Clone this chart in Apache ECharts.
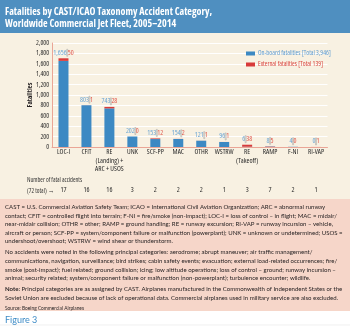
<!DOCTYPE html>
<html><head><meta charset="utf-8">
<script src="https://cdn.jsdelivr.net/npm/echarts@6/dist/echarts.min.js"></script>
<style>html,body{margin:0;padding:0;background:#fff}#c{width:350px;height:328px}</style>
</head><body><div id="c"></div>
<script>
const categories = ['LOC-I','CFIT','RE\n(Landing) +\nARC + USOS','UNK','SCF-PP','MAC','OTHR','WSTRW','RE\n(Takeoff)','RAMP','F-NI','RI-VAP'];
const onboard = [1656,803,743,202,153,154,121,96,6,8,4,0];
const external = [50,1,28,0,12,2,1,1,38,5,0,1];
const accidents = [17,16,16,3,2,2,2,1,3,7,2,1];
const seriesNames = ['On-board fatalities [Total 3,946]','External fatalities [Total 139]'];
const titleLines = ['Fatalities by CAST/ICAO Taxonomy Accident Category,','Worldwide Commercial Jet Fleet, 2005–2014'];
const notes1 = [
 'CAST = U.S. Commercial Aviation Safety Team; ICAO = International Civil Aviation Organization; ARC = abnormal runway',
 'contact; CFIT = controlled flight into terrain; F-NI = fire/smoke (non-impact); LOC-I = loss of control – in flight; MAC = midair/',
 'near-midair collision; OTHR = other; RAMP = ground handling; RE = runway excursion; RI-VAP = runway incursion – vehicle,',
 'aircraft or person; SCF-PP = system/component failure or malfunction (powerplant); UNK = unknown or undetermined; USOS =',
 'undershoot/overshoot; WSTRW = wind shear or thunderstorm.'];
const notes2 = [
 'No accidents were noted in the following principal categories: aerodrome; abrupt maneuver; air traffic management/',
 'communications, navigation, surveillance; bird strikes; cabin safety events; evacuation; external load-related occurrences; fire/',
 'smoke (post-impact); fuel related; ground collision; icing; low altitude operations; loss of control – ground; runway incursion –',
 'animal; security related; system/component failure or malfunction (non-powerplant); turbulence encounter; wildlife.'];
const notes3 = [
 '{b|Note:} Principal categories are as assigned by CAST. Airplanes manufactured in the Commonwealth of Independent States or the',
 'Soviet Union are excluded because of lack of operational data. Commercial airplanes used in military service are also excluded.'];
const sourceText = 'Source: Boeing Commercial Airplanes';

const mc = document.createElement('canvas').getContext('2d');
function w(text, font){ mc.font = font; return mc.measureText(text).width; }
const probe = 'WSTRW OTHR 1,656 abc';
function installed(f){ return Math.abs(w(probe,'100px monospace') - w(probe,"100px '"+f+"', monospace")) > 0.5; }
const fams = ['Roboto','Open Sans','Noto Sans','Inter','Lato','DejaVu Sans','Liberation Sans'];
const stretches = ['', 'semi-condensed', 'condensed', 'extra-condensed'];
let FAM = 'sans-serif', STR = '', bw = 1e9;
fams.forEach(f=>{ if(!installed(f)) return; stretches.forEach(s=>{ const x = w(probe, (s? s+' ':'')+"100px '"+f+"'"); if(x < bw - 0.5){ bw = x; FAM = f; STR = s; } }); });
const CF = "'"+FAM+"', sans-serif";
const fw = wt => (wt + (STR ? ' '+STR : ''));
const cfont = (wt, sz) => fw(wt)+' '+sz+'px '+CF;
const BODY = "Lato, 'Liberation Sans', sans-serif";
const fitC = (text, wt, target) => 100*target / w(text, cfont(wt,100));
const clamp = (v,a,b)=>Math.max(a,Math.min(b,v));

const xlSize = clamp(fitC('WSTRW','normal',19), 6.5, 8);
const blSize = clamp(fitC('1,656','normal',13.5), 6, 7.4);
const ylSize = clamp(fitC('2,000','normal',13), 6, 7);
const lgSize = clamp(fitC(seriesNames[0],'normal',73), 6, 7.2);
const faSize = clamp(fitC('Fatalities','bold',25), 6.5, 8);
const nfSize = 7.6, nfScale = Math.min(1, 55 / w('Number of fatal accidents', cfont('normal',nfSize)));
const titleSize = 10.5, titleScale = Math.min(1.1, 207 / w(titleLines[0], cfont('bold',titleSize)));
const noteSize = Math.min(100*338/w(notes2[1],'100px '+BODY), 100*338/w(notes1[3],'100px '+BODY));

const fmt = v => v.toLocaleString('en-US');
const chart = echarts.init(document.getElementById('c'), null, {renderer:'canvas'});
const g = [
 {type:'rect', shape:{x:0,y:0,width:350,height:33}, style:{fill:'#4f8fc0'}, z:-10},
 {type:'rect', shape:{x:0,y:33,width:350,height:166}, style:{fill:'#f8f1e2'}, z:-10},
 {type:'rect', shape:{x:0,y:199,width:350,height:112}, style:{fill:'#f6d6c9'}, z:-10},
 {type:'line', shape:{x1:0,y1:325,x2:350,y2:325}, style:{stroke:'#e6e6e6',lineWidth:0.6}, z:-10}
];
titleLines.forEach((t,i)=>g.push({type:'text', x:5, y:12.5+i*12, scaleX:titleScale, style:{text:t, fill:'#fff', font:cfont('bold',titleSize), verticalAlign:'middle'}}));
g.push({type:'text', x:27, y:180, scaleX:nfScale, style:{text:'Number of fatal accidents', fill:'#333', font:cfont('normal',nfSize), verticalAlign:'middle'}});
g.push({type:'text', x:27, y:190.5, scaleX:nfScale, style:{text:'(72 total) →', fill:'#333', font:cfont('normal',nfSize), verticalAlign:'middle'}});
let y = 207;
const lh = 8.6;
notes1.forEach(t=>{ g.push({type:'text', x:5, y:y, style:{text:t, fill:'#231f20', font:noteSize+'px '+BODY, verticalAlign:'middle'}}); y+=lh; });
y += 2.5;
notes2.forEach(t=>{ g.push({type:'text', x:5, y:y, style:{text:t, fill:'#231f20', font:noteSize+'px '+BODY, verticalAlign:'middle'}}); y+=lh; });
y += 2.5;
notes3.forEach(t=>{ g.push({type:'text', x:5, y:y, style:{text:t, fill:'#231f20', font:noteSize+'px '+BODY, verticalAlign:'middle', rich:{b:{fontWeight:'bold', fontSize:noteSize, fontFamily:BODY, fill:'#231f20'}}}}); y+=lh; });
y += 1.5;
g.push({type:'text', x:5, y:y, style:{text:sourceText, fill:'#231f20', font:(noteSize*0.8)+'px '+BODY, verticalAlign:'middle'}});
g.push({type:'text', x:5, y:320, style:{text:'Figure 3', fill:'#3d8bc6', font:'9px '+BODY, verticalAlign:'middle'}});

const option = {
 animation:false,
 graphic:g,
 grid:{left:52, right:22.5, top:43, bottom:181, containLabel:false},
 legend:{orient:'vertical', left:241, top:45, itemWidth:9, itemHeight:4, itemGap:4,
   icon:'rect',
   data:[{name:seriesNames[0], textStyle:{color:'#5d9bd0'}},{name:seriesNames[1], textStyle:{color:'#d9463f'}}],
   textStyle:{fontSize:lgSize, fontFamily:CF, fontWeight:fw('normal'), padding:[0,0,0,-2]}},
 xAxis:[
  {type:'category', data:categories, axisTick:{show:false},
   axisLine:{lineStyle:{color:'#eaa596', width:1}},
   axisLabel:{interval:0, margin:1, fontSize:xlSize, lineHeight:8.5, color:'#2a2a2a', fontFamily:CF, fontWeight:fw('normal')}},
  {type:'category', data:categories, position:'bottom', offset:39, axisTick:{show:false}, axisLine:{show:false},
   axisLabel:{interval:0, margin:0, fontSize:xlSize, color:'#2a2a2a', fontFamily:CF, fontWeight:fw('normal'), formatter:(v,i)=>String(accidents[i])}}
 ],
 yAxis:{type:'value', min:0, max:2000, interval:200,
   name:'Fatalities', nameLocation:'middle', nameGap:19, nameRotate:90, nameMoveOverlap:false,
   nameTextStyle:{fontWeight:fw('bold'), fontSize:faSize, fontFamily:CF, color:'#231f20'},
   axisLine:{show:true, lineStyle:{color:'#eaa596', width:1}}, axisTick:{show:false},
   axisLabel:{formatter:v=>fmt(v), fontSize:ylSize, margin:3, color:'#2a2a2a', fontFamily:CF, fontWeight:fw('normal')},
   splitLine:{lineStyle:{color:'#ffffff', width:1}}},
 series:[
  {name:seriesNames[0], type:'bar', stack:'f', barWidth:10, data:onboard, itemStyle:{color:'#3c89c3'}},
  {name:seriesNames[1], type:'bar', stack:'f', barWidth:10, data:external, itemStyle:{color:'#d83a3a'},
   label:{show:true, position:'top', distance:2, fontFamily:CF, fontSize:blSize, fontWeight:fw('normal'),
     formatter:p=>'{a|'+fmt(onboard[p.dataIndex])+'}{s|}{b|'+fmt(external[p.dataIndex])+'}',
     rich:{a:{color:'#6aa5d4', fontSize:blSize, fontFamily:CF, fontWeight:fw('normal')},
           s:{width:0, height:blSize, borderColor:'#a0a0a0', borderWidth:0.5, padding:[0,0.5]},
           b:{color:'#e0574c', fontSize:blSize, fontFamily:CF, fontWeight:fw('normal')}}}}
 ]
};
chart.setOption(option);
</script></body></html>
